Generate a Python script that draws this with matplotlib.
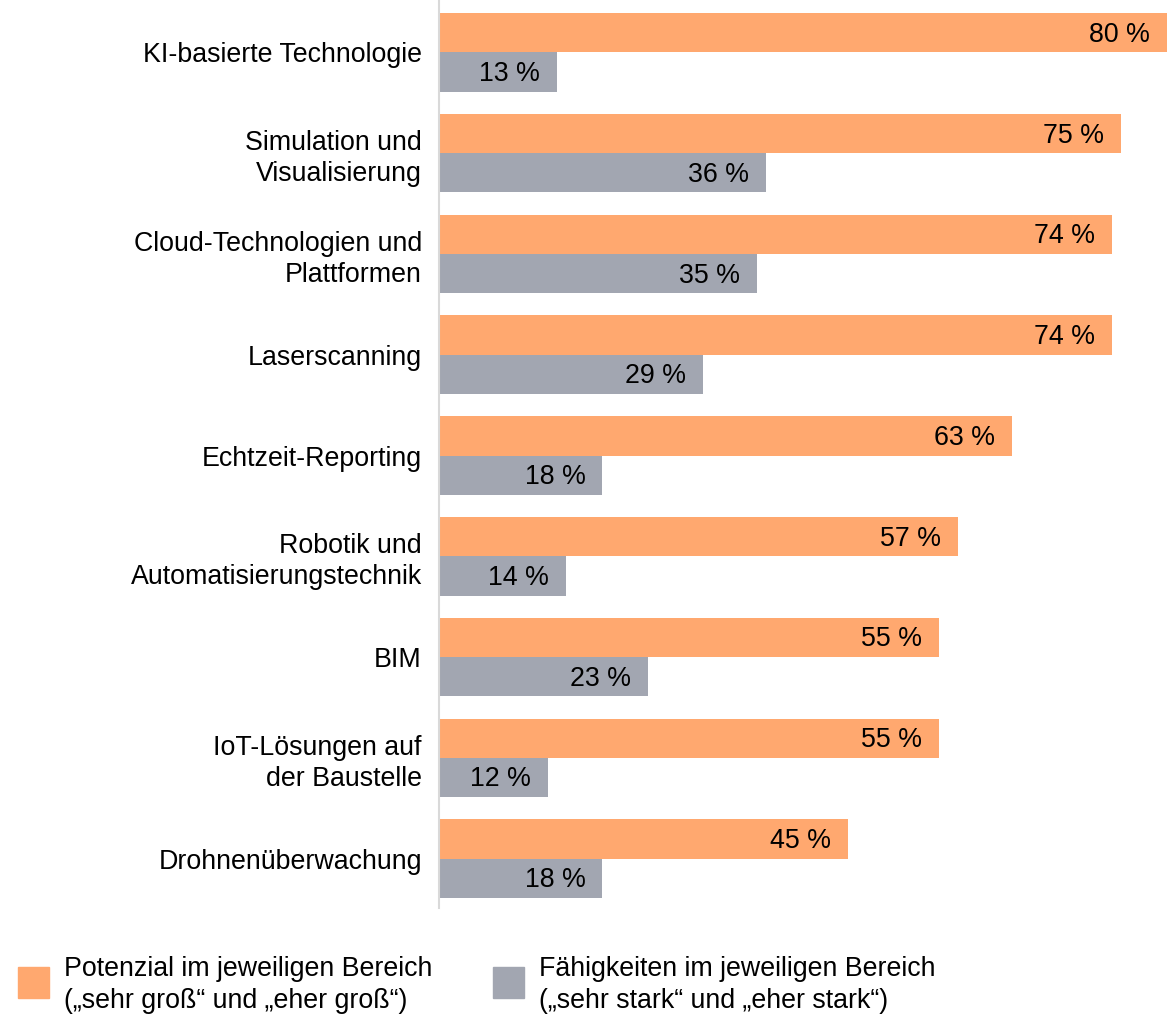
import numpy as np
import matplotlib.pyplot as plt
from matplotlib.patches import Rectangle

categories = ["KI-basierte Technologie", "Simulation und\nVisualisierung",
              "Cloud-Technologien und\nPlattformen", "Laserscanning",
              "Echtzeit-Reporting", "Robotik und\nAutomatisierungstechnik",
              "BIM", "IoT-Lösungen auf\nder Baustelle", "Drohnenüberwachung"]
potenzial = [80, 75, 74, 74, 63, 57, 55, 55, 45]
faehigkeiten = [13, 36, 35, 29, 18, 14, 23, 12, 18]
legend_labels = ["Potenzial im jeweiligen Bereich\n(\u201esehr groß\u201c und \u201eeher groß\u201c)",
                 "Fähigkeiten im jeweiligen Bereich\n(\u201esehr stark\u201c und \u201eeher stark\u201c)"]

c_orange = "#FFA86F"
c_gray = "#A2A6B1"

plt.rcParams['font.family'] = ['Liberation Sans', 'DejaVu Sans']
fs = 19.3

W, H = 1167, 1015
fig = plt.figure(figsize=(W/100, H/100), dpi=100)
ax = fig.add_axes([438.5/W, (H-908)/H, (W-438.5)/W, 908/H])

y = np.arange(len(categories))
h = 0.39
b1 = ax.barh(y - h/2, potenzial, height=h, color=c_orange)
b2 = ax.barh(y + h/2, faehigkeiten, height=h, color=c_gray)

for bars, vals in ((b1, potenzial), (b2, faehigkeiten)):
    for r, v in zip(bars, vals):
        ax.annotate(f"{v} %", (r.get_width(), r.get_y() + r.get_height()/2),
                    xytext=(-17, -2), textcoords="offset pixels",
                    ha="right", va="center", fontsize=fs, color="black")

ax.set_xlim(0, 80)
ax.set_ylim(8.49, -0.52)
ax.set_yticks(y)
ax.set_yticklabels(categories, fontsize=fs, linespacing=1.25, ha="right")
ax.tick_params(axis="y", length=0, pad=12)
ax.set_xticks([])
for s in ("top", "right", "bottom"):
    ax.spines[s].set_visible(False)
ax.spines["left"].set_color("#D9D9D9")
ax.spines["left"].set_linewidth(1.5)

# legend
for x0, col, lab in ((18, c_orange, legend_labels[0]), (493, c_gray, legend_labels[1])):
    fig.add_artist(Rectangle((x0/W, (H-998)/H), 31/W, 31/H, color=col,
                             transform=fig.transFigure))
    fig.text((x0+46)/W, (H-985)/H, lab, fontsize=fs, va="center", ha="left",
             linespacing=1.25)

fig.savefig("out.png", dpi=100)
